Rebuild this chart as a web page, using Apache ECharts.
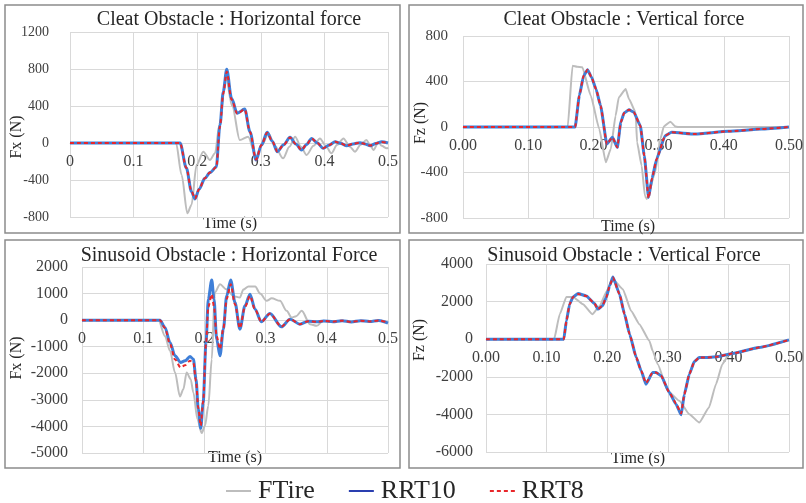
<!DOCTYPE html>
<html>
<head>
<meta charset="utf-8">
<script src="https://cdn.jsdelivr.net/npm/echarts@6/dist/echarts.min.js"></script>
<style>
html,body{margin:0;padding:0;background:#fff;}
#c{width:806px;height:503px;}
</style>
</head>
<body>
<div id="c"></div>
<script>
// ---------- Panel 1 : Cleat Obstacle, Horizontal force ----------
const p1_tGrey = [0, 0.1667, 0.1755, 0.1845, 0.191, 0.199, 0.2096, 0.220, 0.228, 0.235, 0.245, 0.255, 0.267, 0.280, 0.2925, 0.302, 0.312, 0.322, 0.335, 0.345, 0.354, 0.363, 0.372, 0.383, 0.393, 0.402, 0.411, 0.42, 0.43, 0.44, 0.448, 0.457, 0.466, 0.472, 0.477, 0.485, 0.49, 0.498, 0.5];
const p1_vGrey = [0, 0, -346, -760, -670, -238, -94, -184, -111, 200, 717, 400, 32, 68, -148, -20, 105, -30, -166, -40, 68, -40, -130, -30, 50, -30, -112, -20, 50, -40, -94, -20, 32, -20, -76, 10, -30, -58, -50];
const p1_tRrt = [0, 0.173, 0.183, 0.191, 0.1965, 0.203, 0.212, 0.22, 0.23, 0.2358, 0.241, 0.2464, 0.254, 0.263, 0.2747, 0.283, 0.2925, 0.301, 0.310, 0.318, 0.326, 0.336, 0.346, 0.355, 0.364, 0.372, 0.380, 0.389, 0.398, 0.407, 0.417, 0.426, 0.435, 0.445, 0.456, 0.464, 0.472, 0.481, 0.49, 0.5];
const p1_vRrt10 = [0, 0, -270, -526, -605, -500, -382, -320, -260, 195, 555, 797, 483, 321, 367, 122, -184, -22, 115, 20, -94, -20, 61, -10, -76, -15, 50, 0, -58, -25, 14, -5, -29, -10, 4, -10, -29, -5, 14, 0];
const p1_vRrt8 = [0, 0, -270, -520, -600, -500, -380, -320, -262, 180, 535, 770, 470, 318, 362, 120, -180, -22, 112, 20, -92, -20, 60, -10, -74, -15, 48, 0, -56, -25, 14, -5, -28, -10, 4, -10, -28, -5, 12, 0];

// ---------- Panel 2 : Cleat Obstacle, Vertical force ----------
const p2_tGrey = [0, 0.1606, 0.168, 0.175, 0.183, 0.196, 0.209, 0.219, 0.2267, 0.234, 0.239, 0.2495, 0.2546, 0.2647, 0.267, 0.274, 0.279, 0.282, 0.2947, 0.303, 0.308, 0.318, 0.3257, 0.33, 0.5];
const p2_vGrey = [0, 0, 539, 530, 525, 275, -18, -310, -193, 99, 261, 334, 246, 129, -135, -340, -604, -633, -398, -100, 5, 47, 5, 0, 0];
const p2_tRrt = [0, 0.172, 0.1784, 0.185, 0.191, 0.197, 0.204, 0.211, 0.2206, 0.2292, 0.2367, 0.242, 0.247, 0.2546, 0.262, 0.272, 0.278, 0.2846, 0.29, 0.297, 0.31, 0.32, 0.356, 0.407, 0.458, 0.5];
const p2_vRrt10 = [0, 0, 275, 451, 504, 440, 334, 187, -150, -91, -179, 41, 123, 152, 130, 10, -250, -620, -450, -281, -76, -47, -62, -38, -18, 0];
const p2_vRrt8 = [0, 0, 275, 451, 504, 440, 334, 187, -150, -91, -179, 41, 123, 152, 130, 10, -250, -625, -450, -281, -76, -47, -62, -38, -18, 0];

// ---------- Panel 3 : Sinusoid Obstacle, Horizontal Force ----------
const p3_tGrey = [0, 0.125, 0.1356, 0.1438, 0.152, 0.160, 0.1656, 0.171, 0.1776, 0.182, 0.1885, 0.1955, 0.201, 0.2064, 0.212, 0.217, 0.2255, 0.236, 0.248, 0.258, 0.2636, 0.272, 0.283, 0.291, 0.3017, 0.31, 0.3235, 0.3344, 0.3426, 0.35, 0.359, 0.3725, 0.3835, 0.394, 0.41, 0.425, 0.44, 0.455, 0.47, 0.485, 0.5];
const p3_vGrey = [0, 0, -600, -1150, -1970, -2870, -2600, -1970, -2220, -2720, -3720, -4250, -3970, -3220, -1470, 1040, 1350, 1160, 900, 850, 1150, 1270, 1270, 1000, 726, 820, 726, 350, 100, 150, 350, -150, -213, -25, -50, -20, -60, -30, -50, -20, -90];
const p3_tRrt = [0, 0.1275, 0.1356, 0.1438, 0.152, 0.161, 0.1683, 0.1765, 0.182, 0.1863, 0.19, 0.194, 0.198, 0.2026, 0.2064, 0.212, 0.2157, 0.22, 0.2255, 0.231, 0.2364, 0.243, 0.25, 0.258, 0.2663, 0.2745, 0.2827, 0.293, 0.307, 0.326, 0.34, 0.356, 0.37, 0.383, 0.395, 0.41, 0.425, 0.44, 0.455, 0.47, 0.485, 0.5];
const p3_vRrt10 = [0, 0, -276, -840, -1340, -1590, -1530, -1370, -1470, -2220, -3350, -4070, -3100, -840, 790, 1515, 790, -715, -1340, -340, 914, 1515, 665, -340, 538, 977, 414, -60, 250, -250, 38, -150, -40, -65, -30, -60, -20, -70, -20, -50, -10, -110];
const p3_vRrt8 = [0, 0, -300, -900, -1480, -1780, -1700, -1530, -1600, -2300, -3300, -3970, -3050, -900, 500, 977, 500, -600, -1090, -300, 800, 1353, 600, -300, 500, 914, 400, -60, 240, -240, 38, -150, -40, -65, -30, -60, -20, -70, -20, -50, -10, -100];

// ---------- Panel 4 : Sinusoid Obstacle, Vertical Force ----------
const p4_tGrey = [0, 0.1124, 0.1217, 0.1327, 0.1436, 0.160, 0.1754, 0.1875, 0.1995, 0.2066, 0.2122, 0.2258, 0.2396, 0.253, 0.2697, 0.275, 0.2834, 0.300, 0.319, 0.3355, 0.352, 0.368, 0.3795, 0.390, 0.401, 0.4396, 0.47, 0.5];
const p4_vGrey = [0, 0, 1330, 2250, 2250, 1860, 1330, 1770, 2570, 3070, 3100, 2660, 1500, 800, -90, -620, -1330, -2750, -3280, -3990, -4430, -3630, -2390, -1330, -800, -530, -330, -37];
const p4_tRrt = [0, 0.1283, 0.1327, 0.138, 0.1436, 0.152, 0.1656, 0.179, 0.1847, 0.192, 0.1985, 0.204, 0.2095, 0.2204, 0.2286, 0.237, 0.248, 0.256, 0.264, 0.275, 0.2807, 0.289, 0.3026, 0.3136, 0.322, 0.3273, 0.3355, 0.3438, 0.352, 0.363, 0.3795, 0.4068, 0.45, 0.5];
const p4_vRrt10 = [0, 0, 975, 1860, 2250, 2430, 2300, 1900, 1600, 1770, 2220, 2840, 3310, 2390, 1330, 266, -975, -1680, -2390, -1770, -1770, -1950, -2840, -3460, -4025, -2930, -1860, -1190, -975, -975, -940, -760, -443, -37];
const p4_vRrt8 = [0, 0, 975, 1860, 2250, 2400, 2300, 1900, 1600, 1770, 2220, 2840, 3280, 2390, 1330, 266, -975, -1680, -2330, -1770, -1770, -1950, -2840, -3420, -3950, -2930, -1860, -1190, -975, -975, -940, -760, -443, -37];

// ---------- Axis settings ----------
const yMin = [-800, -800, -5000, -6000];
const yMax = [1200, 800, 2000, 4000];
const yStep = [400, 400, 1000, 2000];
const titles = ['Cleat Obstacle : Horizontal force', 'Cleat Obstacle : Vertical force', 'Sinusoid Obstacle : Horizontal Force', 'Sinusoid Obstacle : Vertical Force'];
const yNames = ['Fx (N)', 'Fz (N)', 'Fx (N)', 'Fz (N)'];
const xName = 'Time (s)';
const legendNames = ['FTire', 'RRT10', 'RRT8'];

const zip = (t, v) => t.map((x, i) => [x, v[i]]);
const FONT = '"Liberation Serif", "Times New Roman", serif';
const GRID_C = '#d9d9d9';
const TXT = '#404040';

const grids = [
  {left: 70, top: 32, width: 318, height: 185},
  {left: 463, top: 36, width: 328, height: 182},
  {left: 82, top: 267, width: 306, height: 186},
  {left: 486, top: 264, width: 304, height: 188}
];
const yLabelMargin = [21, 15, 14, 13];
const yLabelSize = [14, 15, 16, 16];
const xFmt = [
  v => String(Math.round(v * 10) / 10),
  v => v.toFixed(2),
  v => String(Math.round(v * 10) / 10),
  v => v.toFixed(2)
];

const xAxes = grids.map((g, i) => ({
  type: 'value', gridIndex: i, min: 0, max: 0.5, interval: 0.1,
  position: 'bottom',
  // place the axis (line and labels) on the y = 0 level of its grid
  offset: -g.height * (0 - yMin[i]) / (yMax[i] - yMin[i]),
  axisLine: {onZero: false, lineStyle: {color: GRID_C, width: 1}},
  axisTick: {show: false},
  axisLabel: {formatter: xFmt[i], fontFamily: FONT, fontSize: 16, color: TXT, margin: 11},
  splitLine: {show: true, lineStyle: {color: GRID_C, width: 1}}
}));
const yAxes = grids.map((g, i) => ({
  type: 'value', gridIndex: i, min: yMin[i], max: yMax[i], interval: yStep[i],
  axisLine: {show: false}, axisTick: {show: false},
  axisLabel: {formatter: v => String(v), fontFamily: FONT, fontSize: yLabelSize[i], color: TXT, margin: yLabelMargin[i]},
  splitLine: {show: true, lineStyle: {color: GRID_C, width: 1}}
}));

const panels = [
  [p1_tGrey, p1_vGrey, p1_tRrt, p1_vRrt10, p1_vRrt8, 0.3],
  [p2_tGrey, p2_vGrey, p2_tRrt, p2_vRrt10, p2_vRrt8, 0.15],
  [p3_tGrey, p3_vGrey, p3_tRrt, p3_vRrt10, p3_vRrt8, 0.3],
  [p4_tGrey, p4_vGrey, p4_tRrt, p4_vRrt10, p4_vRrt8, 0.15]
];
const series = [];
panels.forEach((p, i) => {
  series.push({name: legendNames[0], type: 'line', xAxisIndex: i, yAxisIndex: i, data: zip(p[0], p[1]),
    symbol: 'none', smooth: p[5], smoothMonotone: 'x', lineStyle: {color: '#bdbdbd', width: 2}, itemStyle: {color: '#bdbdbd'}, z: 2});
  series.push({name: legendNames[1], type: 'line', xAxisIndex: i, yAxisIndex: i, data: zip(p[2], p[3]),
    symbol: 'none', smooth: p[5], smoothMonotone: 'x', lineStyle: {color: '#3f7fd8', width: 3}, itemStyle: {color: '#3f7fd8'}, z: 3});
  series.push({name: legendNames[2], type: 'line', xAxisIndex: i, yAxisIndex: i, data: zip(p[2], p[4]),
    symbol: 'none', smooth: p[5], smoothMonotone: 'x', lineStyle: {color: '#e8262a', width: 2, type: [4, 3]}, itemStyle: {color: '#e8262a'}, z: 4});
});

const borders = [
  [5, 5, 395, 228], [409, 5, 394, 228], [5, 240, 395, 228], [409, 240, 394, 228]
];
const titlePos = [[229, 20], [624, 20], [229, 256], [624, 256]];
const yNamePos = [[17, 137], [421, 123], [17, 358], [420, 340]];
const xNamePos = [[230, 224], [628, 227], [235, 458], [638, 459]];

const graphic = [];
borders.forEach(b => graphic.push({type: 'rect', shape: {x: b[0], y: b[1], width: b[2], height: b[3]},
  style: {fill: null, stroke: '#8c8c8c', lineWidth: 1.5}, silent: true}));
titles.forEach((t, i) => graphic.push({type: 'text', x: titlePos[i][0], y: titlePos[i][1],
  style: {text: t, font: '20px ' + FONT, fill: '#262626', align: 'center', verticalAlign: 'middle'}}));
yNames.forEach((t, i) => graphic.push({type: 'text', x: yNamePos[i][0], y: yNamePos[i][1], rotation: Math.PI / 2,
  style: {text: t, font: '16px ' + FONT, fill: '#262626', align: 'center', verticalAlign: 'middle'}}));
xNamePos.forEach(p => graphic.push({type: 'text', x: p[0], y: p[1],
  style: {text: xName, font: '16px ' + FONT, fill: '#262626', align: 'center', verticalAlign: 'middle'}}));

const chart = echarts.init(document.getElementById('c'), null, {renderer: 'canvas'});
chart.setOption({
  animation: false,
  backgroundColor: '#fff',
  grid: grids,
  xAxis: xAxes,
  yAxis: yAxes,
  series: series,
  graphic: graphic,
  legend: {
    left: 225, top: 478, padding: 0, itemWidth: 25, itemHeight: 14, itemGap: 33,
    textStyle: {fontFamily: FONT, fontSize: 26, color: '#262626', padding: [0, 0, 0, 2]},
    data: [
      {name: 'FTire', itemStyle: {opacity: 0}, lineStyle: {color: '#bdbdbd', width: 2}},
      {name: 'RRT10', itemStyle: {opacity: 0}, lineStyle: {color: '#2a3fb0', width: 2}},
      {name: 'RRT8', itemStyle: {opacity: 0}, lineStyle: {color: '#e8262a', width: 2, type: [4, 3]}}
    ]
  }
});
</script>
</body>
</html>
